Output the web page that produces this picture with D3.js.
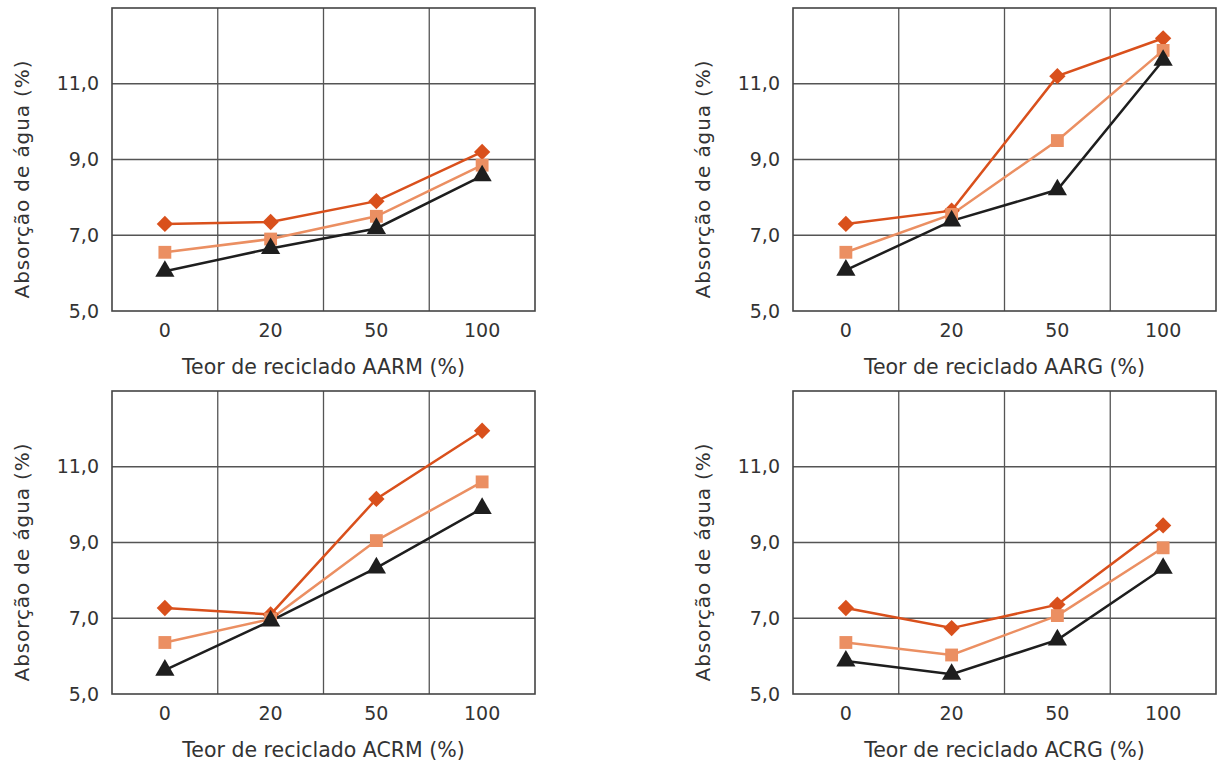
<!DOCTYPE html>
<html>
<head>
<meta charset="utf-8">
<script src="https://cdn.jsdelivr.net/npm/d3@7"></script>
<style>
  body { margin: 0; background: #fff; }
  svg text { font-family: 'DejaVu Sans', sans-serif; fill: #333; }
</style>
</head>
<body>
<svg width="1219" height="763"></svg>
<script>
// teor de reciclado (%)
const teores = ['0', '20', '50', '100']
const yTicks = [5, 7, 9, 11]

const paineis = ['AARM', 'AARG', 'ACRM', 'ACRG']

// three series per panel: diamond (dark orange), square (light orange), triangle (black)
const losango = [
  [7.3, 7.35, 7.9, 9.2],
  [7.3, 7.65, 11.2, 12.2],
  [7.27, 7.1, 10.15, 11.95],
  [7.27, 6.74, 7.36, 9.45]
]
const quadrado = [
  [6.55, 6.9, 7.5, 8.85],
  [6.55, 7.55, 9.5, 11.88],
  [6.36, 6.98, 9.05, 10.6],
  [6.36, 6.03, 7.07, 8.86]
]
const triangulo = [
  [6.05, 6.65, 7.18, 8.57],
  [6.08, 7.38, 8.2, 11.62],
  [5.63, 6.93, 8.33, 9.9],
  [5.87, 5.52, 6.43, 8.32]
]

const svg = d3.select('svg')
const innerWidth = 423
const innerHeight = 303
const origins = [[112, 8], [793, 8], [112, 391], [793, 391]]

const series = [
  { data: losango, color: '#d9501c', symbol: d3.symbolDiamond2, size: 170, width: 2.5 },
  { data: quadrado, color: '#eb8f62', symbol: d3.symbolSquare, size: 165, width: 2.5 },
  { data: triangulo, color: '#1e1e1e', symbol: d3.symbolTriangle, size: 160, width: 2.5 }
]

const xScale = d3.scaleBand().domain(teores).range([0, innerWidth])
const yScale = d3.scaleLinear().domain([5, 13]).range([innerHeight, 0])

paineis.forEach((nome, i) => {
  const g = svg.append('g')
    .attr('transform', `translate(${origins[i][0]}, ${origins[i][1]})`)

  // horizontal grid
  g.append('g')
    .selectAll('line').data([7, 9, 11])
    .enter().append('line')
    .attr('x1', 0).attr('x2', innerWidth)
    .attr('y1', d => yScale(d)).attr('y2', d => yScale(d))
    .attr('stroke', '#555').attr('stroke-width', 1.3)

  // vertical grid between categories
  g.append('g')
    .selectAll('line').data(teores.slice(1))
    .enter().append('line')
    .attr('x1', d => xScale(d)).attr('x2', d => xScale(d))
    .attr('y1', 0).attr('y2', innerHeight)
    .attr('stroke', '#555').attr('stroke-width', 1.3)

  // frame
  g.append('rect')
    .attr('width', innerWidth).attr('height', innerHeight)
    .attr('fill', 'none').attr('stroke', '#444').attr('stroke-width', 1.6)

  // axes
  const yAxis = d3.axisLeft(yScale).tickValues(yTicks)
    .tickSize(0).tickPadding(13)
    .tickFormat(d => d3.format('.1f')(d).replace('.', ','))
  const yAxisG = g.append('g').call(yAxis)
    .attr('font-family', null).attr('font-size', null)
  yAxisG.select('.domain').remove()
  yAxisG.selectAll('text').style('font-size', '19px')

  const xAxis = d3.axisBottom(xScale).tickSize(0).tickPadding(13)
  const xAxisG = g.append('g').call(xAxis)
    .attr('transform', `translate(0, ${innerHeight})`)
    .attr('font-family', null).attr('font-size', null)
  xAxisG.select('.domain').remove()
  xAxisG.selectAll('text').style('font-size', '19px')

  g.append('text')
    .attr('x', innerWidth / 2)
    .attr('y', innerHeight + 63)
    .attr('text-anchor', 'middle')
    .style('font-size', '20.5px')
    .text(`Teor de reciclado ${nome} (%)`)

  g.append('text')
    .attr('transform', `translate(-90, 171) rotate(-90)`)
    .attr('text-anchor', 'middle')
    .attr('dy', '0.35em')
    .style('font-size', '20px')
    .style('letter-spacing', '0.9px')
    .text('Absorção de água (%)')

  const cx = d => xScale(d) + xScale.bandwidth() / 2
  const line = d3.line()
    .x((d, j) => cx(teores[j]))
    .y(d => yScale(d))

  series.forEach(s => {
    g.append('path')
      .datum(s.data[i])
      .attr('d', line)
      .attr('fill', 'none')
      .attr('stroke', s.color)
      .attr('stroke-width', s.width)
  })

  series.forEach(s => {
    g.append('g').selectAll('path').data(s.data[i])
      .enter().append('path')
      .attr('d', d3.symbol().type(s.symbol).size(s.size))
      .attr('transform', (d, j) => `translate(${cx(teores[j])}, ${yScale(d)})`)
      .attr('fill', s.color)
  })
})
</script>
</body>
</html>
